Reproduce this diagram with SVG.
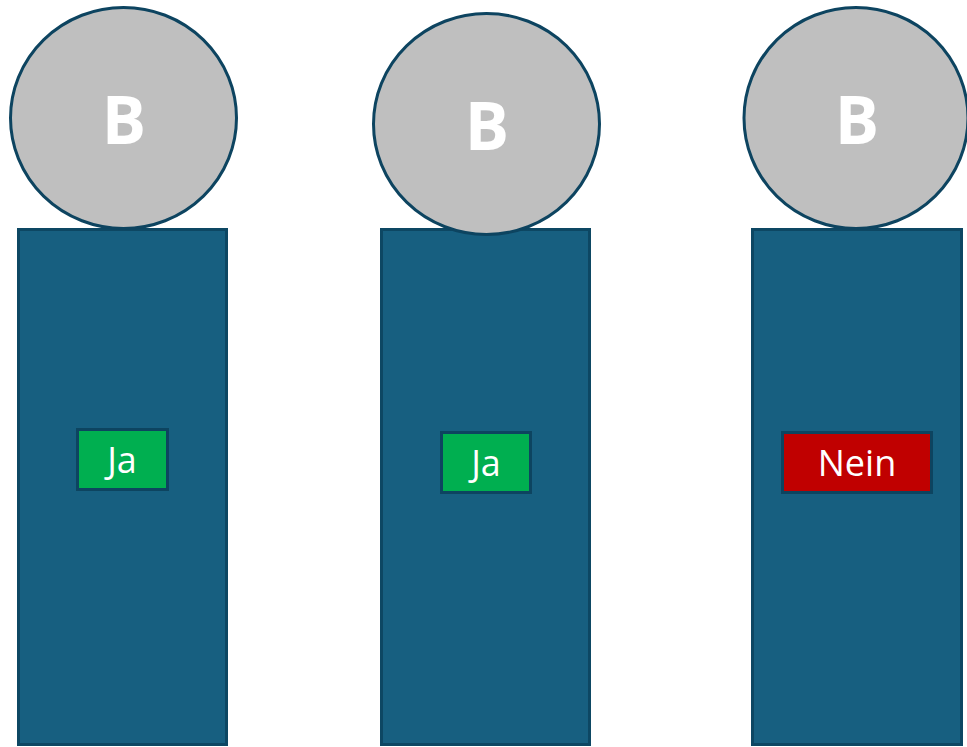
<svg xmlns="http://www.w3.org/2000/svg" width="967" height="747" viewBox="0 0 967 747">
<style>
.body{fill:#175F80;stroke:#0D4763;stroke-width:3}
.head{fill:#BFBFBF;stroke:#0D4460;stroke-width:3}
.b{fill:#fff;font-family:"Open Sans","Liberation Sans",sans-serif;font-weight:bold;font-size:66px;text-anchor:middle}
.lbl{stroke:#0D4460;stroke-width:3}
.t{fill:#fff;font-family:"Open Sans","Liberation Sans",sans-serif;font-size:36px;text-anchor:middle}
</style>
<rect width="967" height="747" fill="#fff"/>
<g id="person1">
<rect class="body" x="18.5" y="229.5" width="208" height="515"/>
<ellipse class="head" cx="123.5" cy="118" rx="113" ry="110.5"/>
<text class="b" x="124" y="144">B</text>
<rect class="lbl" x="77.5" y="429.5" width="90" height="60" fill="#00AF50"/>
<text class="t" x="122" y="473">Ja</text>
</g>
<g id="person2">
<rect class="body" x="381.5" y="229.5" width="208" height="515"/>
<ellipse class="head" cx="486.5" cy="124" rx="113" ry="110.5"/>
<text class="b" x="487" y="150">B</text>
<rect class="lbl" x="441.5" y="432.5" width="89" height="60" fill="#00AF50"/>
<text class="t" x="486" y="476">Ja</text>
</g>
<g id="person3">
<rect class="body" x="752.5" y="229.5" width="209" height="515"/>
<ellipse class="head" cx="856" cy="118" rx="112" ry="110.5"/>
<text class="b" x="857" y="144">B</text>
<rect class="lbl" x="782.5" y="432.5" width="149" height="60" fill="#C00000"/>
<text class="t" x="857" y="476">Nein</text>
</g>
<g id="connectors"></g>
</svg>
